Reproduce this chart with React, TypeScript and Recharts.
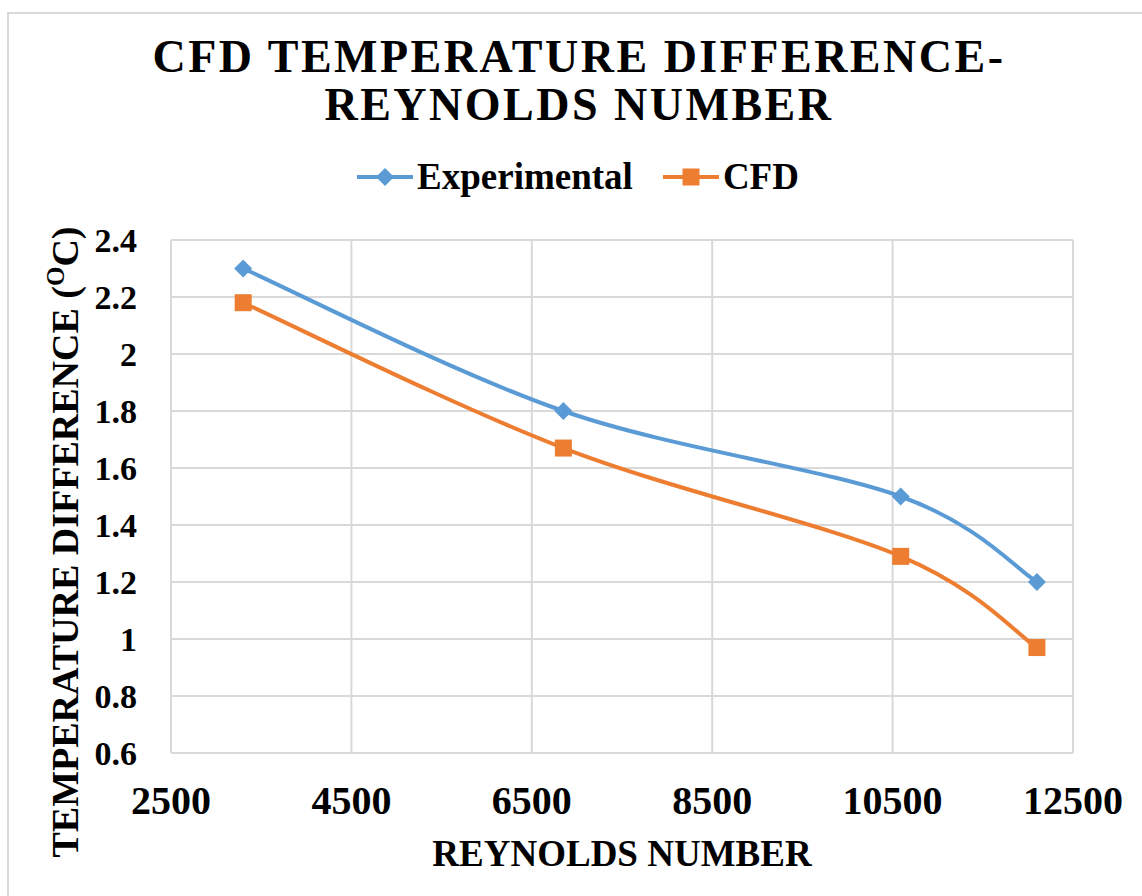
import React from 'react';
import { LineChart, Line, XAxis, YAxis, CartesianGrid, Legend } from 'recharts';

const reynolds = [3300, 6850, 10590, 12100];
const experimental = [2.3, 1.8, 1.5, 1.2];
const cfd = [2.18, 1.67, 1.29, 0.97];
const xTicks = [2500, 4500, 6500, 8500, 10500, 12500];
const yTicks = [0.6, 0.8, 1, 1.2, 1.4, 1.6, 1.8, 2, 2.2, 2.4];

const BLUE = '#5B9BD5';
const ORANGE = '#ED7D31';
const FONT = '"Liberation Serif", "Times New Roman", serif';

const chartData = reynolds.map((re, i) => ({
  re,
  experimental: experimental[i],
  cfd: cfd[i],
}));

// Excel-like smoothed line (Catmull-Rom through the points)
const excelSmooth = (context: any) => {
  let pts: number[][] = [];
  return {
    areaStart() {},
    areaEnd() {},
    lineStart() {
      pts = [];
    },
    point(x: number, y: number) {
      pts.push([+x, +y]);
    },
    lineEnd() {
      if (!pts.length) return;
      context.moveTo(pts[0][0], pts[0][1]);
      for (let i = 0; i < pts.length - 1; i++) {
        const p0 = pts[i - 1] || pts[i];
        const p1 = pts[i];
        const p2 = pts[i + 1];
        const p3 = pts[i + 2] || p2;
        context.bezierCurveTo(
          p1[0] + (p2[0] - p0[0]) / 6,
          p1[1] + (p2[1] - p0[1]) / 6,
          p2[0] - (p3[0] - p1[0]) / 6,
          p2[1] - (p3[1] - p1[1]) / 6,
          p2[0],
          p2[1]
        );
      }
    },
  };
};

const Diamond = (props: any) => {
  const { cx, cy } = props;
  if (cx == null || cy == null) return null;
  const r = 9;
  return (
    <polygon
      points={`${cx},${cy - r} ${cx + r},${cy} ${cx},${cy + r} ${cx - r},${cy}`}
      fill={BLUE}
    />
  );
};

const Square = (props: any) => {
  const { cx, cy } = props;
  if (cx == null || cy == null) return null;
  const s = 17;
  return <rect x={cx - s / 2} y={cy - s / 2} width={s} height={s} fill={ORANGE} />;
};

const LegendContent = () => (
  <div
    style={{
      display: 'flex',
      justifyContent: 'center',
      alignItems: 'center',
      fontFamily: FONT,
      fontWeight: 'bold',
      fontSize: 37,
      color: '#000',
      paddingLeft: 14,
    }}
  >
    <svg width={56} height={20} style={{ marginRight: 4 }}>
      <line x1={0} y1={10} x2={56} y2={10} stroke={BLUE} strokeWidth={4} />
      <polygon points="28,1 37,10 28,19 19,10" fill={BLUE} />
    </svg>
    <span>Experimental</span>
    <svg width={56} height={20} style={{ marginLeft: 30, marginRight: 4 }}>
      <line x1={0} y1={10} x2={56} y2={10} stroke={ORANGE} strokeWidth={4} />
      <rect x={19.5} y={1.5} width={17} height={17} fill={ORANGE} />
    </svg>
    <span>CFD</span>
  </div>
);

export default function App() {
  return (
    <div
      style={{
        position: 'absolute',
        left: 0,
        top: 0,
        width: 1142,
        height: 896,
        background: '#fff',
        overflow: 'hidden',
      }}
    >
      <div
        style={{
          position: 'absolute',
          left: 7,
          top: 12,
          width: 1160,
          height: 910,
          border: '2px solid #d9d9d9',
        }}
      />
      <div
        style={{
          position: 'absolute',
          left: 0,
          top: 33,
          width: 1158,
          textAlign: 'center',
          fontFamily: FONT,
          fontWeight: 'bold',
          fontSize: 46,
          letterSpacing: 2.5,
          lineHeight: '48px',
          color: '#000',
        }}
      >
        CFD TEMPERATURE DIFFERENCE-
        <br />
        REYNOLDS NUMBER
      </div>
      <LineChart
        width={1142}
        height={896}
        data={chartData}
        margin={{ top: 240, right: 69, left: 51, bottom: 0 }}
      >
        <CartesianGrid stroke="#d9d9d9" strokeWidth={2} />
        <XAxis
          dataKey="re"
          type="number"
          domain={[2500, 12500]}
          ticks={xTicks}
          axisLine={false}
          tickLine={false}
          tickSize={0}
          tickMargin={33}
          height={143}
          tick={{ fill: '#000', fontFamily: FONT, fontWeight: 'bold', fontSize: 40 }}
          label={{
            value: 'REYNOLDS NUMBER',
            position: 'insideBottom',
            offset: 30,
            fill: '#000',
            fontFamily: FONT,
            fontWeight: 'bold',
            fontSize: 37,
          }}
        />
        <YAxis
          type="number"
          domain={[0.6, 2.4]}
          ticks={yTicks}
          width={120}
          axisLine={false}
          tickLine={false}
          tickSize={0}
          tickMargin={34}
          tickFormatter={(v: number) => String(Math.round(v * 10) / 10)}
          tick={{ fill: '#000', fontFamily: FONT, fontWeight: 'bold', fontSize: 34 }}
          label={{
            content: () => (
              <text
                transform="translate(78, 542) rotate(-90)"
                textAnchor="middle"
                fill="#000"
                fontFamily={FONT}
                fontWeight="bold"
                fontSize={38}
              >
                TEMPERATURE DIFFERENCE (
                <tspan fontSize={25} dy={-14}>O</tspan>
                <tspan dy={14}>C)</tspan>
              </text>
            ),
          }}
        />
        <Legend
          layout="horizontal"
          verticalAlign="middle"
          align="center"
          wrapperStyle={{ top: 155, left: 0, width: 1142 }}
          content={<LegendContent />}
        />
        <Line
          type={excelSmooth as any}
          dataKey="experimental"
          name="Experimental"
          stroke={BLUE}
          strokeWidth={4}
          dot={<Diamond />}
          activeDot={false}
          isAnimationActive={false}
        />
        <Line
          type={excelSmooth as any}
          dataKey="cfd"
          name="CFD"
          stroke={ORANGE}
          strokeWidth={4}
          dot={<Square />}
          activeDot={false}
          isAnimationActive={false}
        />
      </LineChart>
    </div>
  );
}
